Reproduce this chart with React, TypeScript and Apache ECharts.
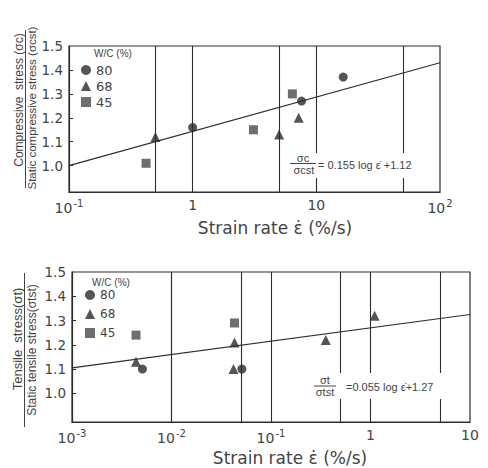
import React, { useEffect, useRef } from 'react';
import * as echarts from 'echarts';

// ---------- data ----------
const yTicks = [1.0, 1.1, 1.2, 1.3, 1.4, 1.5];
const yMinorTicks = [1.0, 1.1, 1.2, 1.3, 1.4];

// Compressive (top)
const wc80Top = [[1, 1.16], [7.6, 1.27], [16.5, 1.37]];
const wc68Top = [[0.5, 1.12], [5, 1.13], [7.2, 1.2]];
const wc45Top = [[0.42, 1.01], [3.1, 1.15], [6.4, 1.3]];
const fitTop = [[0.1, 1.0], [100, 1.43]];
const vLinesTop = [0.5, 1, 5, 10, 50];

// Tensile (bottom)
const wc80Bot = [[0.0051, 1.1], [0.051, 1.1]];
const wc68Bot = [[0.0044, 1.13], [0.043, 1.21], [0.042, 1.1], [0.355, 1.22], [1.1, 1.32]];
const wc45Bot = [[0.0044, 1.24], [0.043, 1.29]];
const fitBot = [[0.001, 1.105], [10, 1.325]];
const vLinesBot = [0.005, 0.01, 0.05, 0.1, 0.5, 1, 5];

const seriesNames = ['80', '68', '45'];
const symbols = ['circle', 'triangle', 'rect'];

const FONT = 'DejaVu Sans';
const LFONT = 'Liberation Sans';
const LINE = '#2e2e2e';
const TEXT = '#444';

export default function App() {
  const ref = useRef<HTMLDivElement>(null);
  useEffect(() => {
    const chart = echarts.init(ref.current!, null, { renderer: 'svg' });

    const xLabelFmt = (v: number) => {
      const e = Math.round(Math.log10(v));
      if (e === 0) return '1';
      if (e === 1) return '10';
      return '10{sup|' + e + '}';
    };

    const xAxisBase = (gridIndex: number, min: number, max: number) => ({
      gridIndex,
      type: 'log',
      logBase: 10,
      min,
      max,
      axisLine: { show: true, lineStyle: { color: LINE, width: 1.2 } },
      axisTick: { show: false },
      splitLine: { show: false },
      minorTick: { show: false },
      axisLabel: {
        formatter: xLabelFmt,
        color: TEXT,
        fontFamily: FONT,
        fontSize: 14,
        margin: 6,
        showMinLabel: true,
        showMaxLabel: true,
        rich: {
          sup: { fontSize: 10, fontFamily: FONT, color: TEXT, padding: [0, 0, 9, 1] },
        },
      },
    });

    const yAxisBase = (gridIndex: number, min: number) => ({
      gridIndex,
      type: 'value',
      min,
      max: 1.5,
      axisLine: { show: true, lineStyle: { color: LINE, width: 1.2 } },
      splitLine: { show: false },
      axisTick: {
        show: true,
        inside: true,
        length: 4,
        customValues: yMinorTicks,
        lineStyle: { color: LINE },
      },
      axisLabel: {
        customValues: yTicks,
        formatter: (v: number) => v.toFixed(1),
        color: TEXT,
        fontFamily: FONT,
        fontSize: 13.5,
        margin: 6,
      },
    });

    const scatter = (name: string, symbol: string, data: number[][], idx: number, color: string, size: number) => ({
      name,
      type: 'scatter',
      xAxisIndex: idx,
      yAxisIndex: idx,
      symbol,
      symbolSize: size,
      itemStyle: { color },
      data,
      z: 5,
    });

    const fitLine = (data: number[][], idx: number, vlines: number[]) => ({
      type: 'line',
      xAxisIndex: idx,
      yAxisIndex: idx,
      data,
      symbol: 'none',
      lineStyle: { color: LINE, width: 1.2 },
      silent: true,
      markLine: {
        silent: true,
        symbol: ['none', 'none'],
        label: { show: false },
        lineStyle: { color: LINE, type: 'solid', width: 1.1 },
        data: vlines.map((v) => ({ xAxis: v })),
      },
    });

    const colors = ['#2a2a2a', '#2a2a2a', '#4a4a4a'];
    const sizes = [9, 10, 9];
    const topSets = [wc80Top, wc68Top, wc45Top];
    const botSets = [wc80Bot, wc68Bot, wc45Bot];

    const series: any[] = [fitLine(fitTop, 0, vLinesTop), fitLine(fitBot, 1, vLinesBot)];
    seriesNames.forEach((n, i) => {
      series.push(scatter(n, symbols[i], topSets[i], 0, colors[i], sizes[i]));
      series.push(scatter(n, symbols[i], botSets[i], 1, colors[i], sizes[i]));
    });

    const txt = (text: string, x: number, y: number, size: number, opts: any = {}) => ({
      type: 'text',
      x,
      y,
      z: 100,
      rotation: opts.rotation || 0,
      style: {
        text,
        fill: TEXT,
        font: `${size}px "${opts.family || FONT}"`,
        align: opts.align || 'center',
        verticalAlign: 'middle',
      },
    });
    const ln = (x1: number, y1: number, x2: number, y2: number) => ({
      type: 'line',
      z: 100,
      shape: { x1, y1, x2, y2 },
      style: { stroke: TEXT, lineWidth: 1 },
    });
    const wrect = (x: number, y: number, w: number, h: number) => ({
      type: 'rect',
      z: 99,
      shape: { x, y, width: w, height: h },
      style: { fill: '#fff' },
    });

    const R = Math.PI / 2;
    const graphic: any[] = [
      // y titles
      txt('Compressive  stress (σc)', 19, 100, 12, { rotation: R, family: LFONT }),
      txt('Static compressive stress (σcst)', 32, 108, 11.5, { rotation: R, family: LFONT }),
      ln(25.5, 30, 25.5, 188),
      txt('Tensile  stress(σt)', 17, 339, 13, { rotation: R, family: LFONT }),
      txt('Static tensile stress(σtst)', 32, 350, 12, { rotation: R, family: LFONT }),
      ln(24.5, 273, 24.5, 427),
      // x titles
      txt('Strain rate ε̇ (%/s)', 275, 228, 17, { family: FONT }),
      txt('Strain rate ε̇ (%/s)', 290, 458, 17, { family: FONT }),
      // legend titles
      txt('W/C (%)', 113, 53, 10, { family: LFONT }),
      txt('W/C (%)', 111, 282, 10, { family: LFONT }),
      // equation top
      wrect(287, 153, 130, 25),
      txt('σc', 303, 158, 11, { family: LFONT }),
      ln(290, 163.5, 316, 163.5),
      txt('σcst', 304, 170, 11, { family: LFONT }),
      txt('= 0.155 log ε̇ +1.12', 318, 165, 11, { family: LFONT, align: 'left' }),
      // equation bottom
      wrect(312, 373, 135, 26),
      txt('σt', 325, 380, 11, { family: LFONT }),
      ln(314, 386, 336, 386),
      txt('σtst', 325, 392, 11, { family: LFONT }),
      txt('=0.055 log ε̇+1.27', 346, 387, 11, { family: LFONT, align: 'left' }),
    ];

    const legendBase = (left: number, top: number, gap: number, fs: number) => ({
      data: seriesNames,
      orient: 'vertical',
      left,
      top,
      padding: 0,
      itemWidth: 10,
      itemHeight: 10,
      itemGap: gap,
      selectedMode: false,
      textStyle: { fontSize: fs, fontFamily: FONT, color: TEXT, lineHeight: 14 },
    });

    chart.setOption({
      animation: false,
      backgroundColor: '#fff',
      grid: [
        { left: 69, top: 46, width: 371, height: 146, show: true, borderColor: LINE, borderWidth: 1.2 },
        { left: 72, top: 272, width: 398, height: 150, show: true, borderColor: LINE, borderWidth: 1.2 },
      ],
      xAxis: [xAxisBase(0, 0.1, 100), xAxisBase(1, 0.001, 10)],
      yAxis: [yAxisBase(0, 0.89), yAxisBase(1, 0.882)],
      legend: [legendBase(81, 63, 2, 13), legendBase(85, 288, 5, 12)],
      series,
      graphic,
    });
    return () => chart.dispose();
  }, []);
  return (
    <div
      ref={ref}
      style={{ position: 'absolute', left: 0, top: 0, width: 488, height: 468, background: '#fff' }}
    />
  );
}
